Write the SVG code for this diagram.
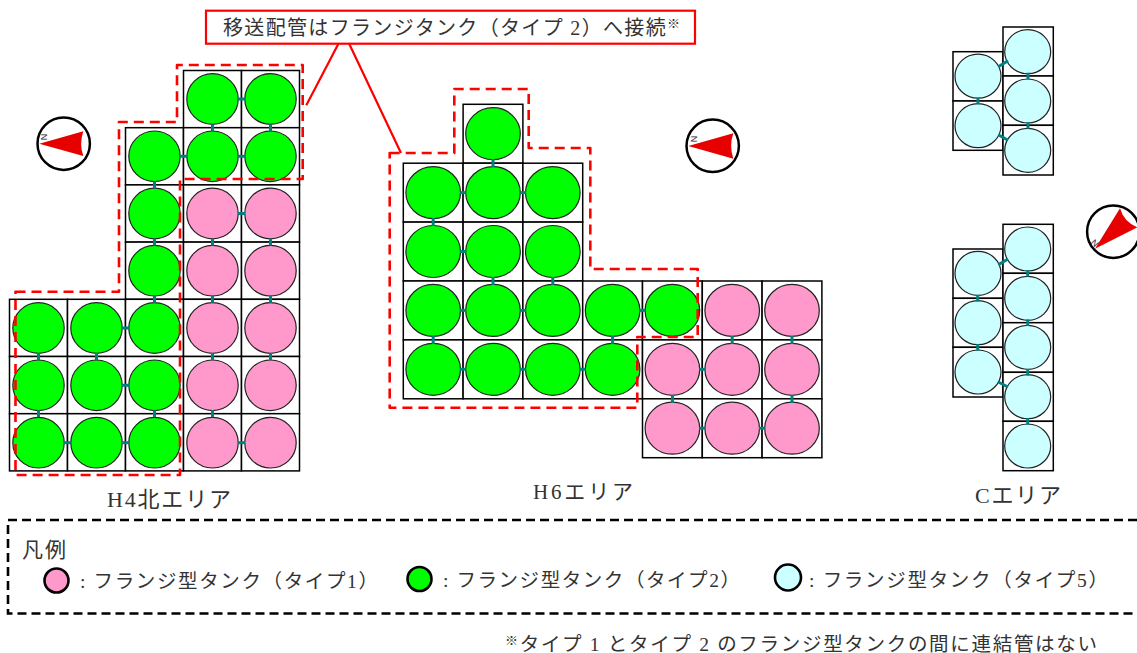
<svg xmlns="http://www.w3.org/2000/svg" width="1137" height="653" viewBox="0 0 1137 653">
<style>
.c{fill:#fff;stroke:#000;stroke-width:1.5}
.g,.p,.b{stroke:#222;stroke-width:1.2}
.g{fill:#00ff00}.p{fill:#ff99cc}.b{fill:#ccffff}
.k line{stroke:#008080;stroke-width:3}
.rd{fill:none;stroke:#ff0000;stroke-width:2.6;stroke-dasharray:10 6;stroke-linejoin:round}
.t{font-family:"Liberation Serif","Noto Sans CJK JP",serif;fill:#333;font-weight:400}
.lg{stroke:#000;stroke-width:2.6}
.nd{fill:#e60000}
.cp{fill:#fff;stroke:#000;stroke-width:2.5}
.n{font-family:"Liberation Sans",sans-serif;font-size:9px;fill:#222;text-anchor:middle}
</style>
<rect width="1137" height="653" fill="#fff"/>
<g id="area-h4">
<g id="h4-r0c3"><rect class="c" x="183.5" y="70.5" width="58" height="57.2"/><ellipse class="g" cx="212.5" cy="99" rx="25.7" ry="25.3"/></g>
<g id="h4-r0c4"><rect class="c" x="241.5" y="70.5" width="58" height="57.2"/><ellipse class="g" cx="270.5" cy="99" rx="25.7" ry="25.3"/></g>
<g id="h4-r1c2"><rect class="c" x="125.5" y="127.7" width="58" height="57.2"/><ellipse class="g" cx="154.5" cy="156.3" rx="25.7" ry="25.3"/></g>
<g id="h4-r1c3"><rect class="c" x="183.5" y="127.7" width="58" height="57.2"/><ellipse class="g" cx="212.5" cy="156.3" rx="25.7" ry="25.3"/></g>
<g id="h4-r1c4"><rect class="c" x="241.5" y="127.7" width="58" height="57.2"/><ellipse class="g" cx="270.5" cy="156.3" rx="25.7" ry="25.3"/></g>
<g id="h4-r2c2"><rect class="c" x="125.5" y="184.9" width="58" height="57.2"/><ellipse class="g" cx="154.5" cy="213.5" rx="25.7" ry="25.3"/></g>
<g id="h4-r2c3"><rect class="c" x="183.5" y="184.9" width="58" height="57.2"/><ellipse class="p" cx="212.5" cy="213.5" rx="25.7" ry="25.3"/></g>
<g id="h4-r2c4"><rect class="c" x="241.5" y="184.9" width="58" height="57.2"/><ellipse class="p" cx="270.5" cy="213.5" rx="25.7" ry="25.3"/></g>
<g id="h4-r3c2"><rect class="c" x="125.5" y="242.1" width="58" height="57.2"/><ellipse class="g" cx="154.5" cy="270.7" rx="25.7" ry="25.3"/></g>
<g id="h4-r3c3"><rect class="c" x="183.5" y="242.1" width="58" height="57.2"/><ellipse class="p" cx="212.5" cy="270.7" rx="25.7" ry="25.3"/></g>
<g id="h4-r3c4"><rect class="c" x="241.5" y="242.1" width="58" height="57.2"/><ellipse class="p" cx="270.5" cy="270.7" rx="25.7" ry="25.3"/></g>
<g id="h4-r4c0"><rect class="c" x="9.5" y="299.3" width="58" height="57.2"/><ellipse class="g" cx="38.5" cy="328" rx="25.7" ry="25.3"/></g>
<g id="h4-r4c1"><rect class="c" x="67.5" y="299.3" width="58" height="57.2"/><ellipse class="g" cx="96.5" cy="328" rx="25.7" ry="25.3"/></g>
<g id="h4-r4c2"><rect class="c" x="125.5" y="299.3" width="58" height="57.2"/><ellipse class="g" cx="154.5" cy="328" rx="25.7" ry="25.3"/></g>
<g id="h4-r4c3"><rect class="c" x="183.5" y="299.3" width="58" height="57.2"/><ellipse class="p" cx="212.5" cy="328" rx="25.7" ry="25.3"/></g>
<g id="h4-r4c4"><rect class="c" x="241.5" y="299.3" width="58" height="57.2"/><ellipse class="p" cx="270.5" cy="328" rx="25.7" ry="25.3"/></g>
<g id="h4-r5c0"><rect class="c" x="9.5" y="356.5" width="58" height="57.2"/><ellipse class="g" cx="38.5" cy="385.3" rx="25.7" ry="25.3"/></g>
<g id="h4-r5c1"><rect class="c" x="67.5" y="356.5" width="58" height="57.2"/><ellipse class="g" cx="96.5" cy="385.3" rx="25.7" ry="25.3"/></g>
<g id="h4-r5c2"><rect class="c" x="125.5" y="356.5" width="58" height="57.2"/><ellipse class="g" cx="154.5" cy="385.3" rx="25.7" ry="25.3"/></g>
<g id="h4-r5c3"><rect class="c" x="183.5" y="356.5" width="58" height="57.2"/><ellipse class="p" cx="212.5" cy="385.3" rx="25.7" ry="25.3"/></g>
<g id="h4-r5c4"><rect class="c" x="241.5" y="356.5" width="58" height="57.2"/><ellipse class="p" cx="270.5" cy="385.3" rx="25.7" ry="25.3"/></g>
<g id="h4-r6c0"><rect class="c" x="9.5" y="413.7" width="58" height="57.2"/><ellipse class="g" cx="38.5" cy="442.7" rx="25.7" ry="25.3"/></g>
<g id="h4-r6c1"><rect class="c" x="67.5" y="413.7" width="58" height="57.2"/><ellipse class="g" cx="96.5" cy="442.7" rx="25.7" ry="25.3"/></g>
<g id="h4-r6c2"><rect class="c" x="125.5" y="413.7" width="58" height="57.2"/><ellipse class="g" cx="154.5" cy="442.7" rx="25.7" ry="25.3"/></g>
<g id="h4-r6c3"><rect class="c" x="183.5" y="413.7" width="58" height="57.2"/><ellipse class="p" cx="212.5" cy="442.7" rx="25.7" ry="25.3"/></g>
<g id="h4-r6c4"><rect class="c" x="241.5" y="413.7" width="58" height="57.2"/><ellipse class="p" cx="270.5" cy="442.7" rx="25.7" ry="25.3"/></g>
</g>
<g id="area-h6">
<g id="h6-r0c1"><rect class="c" x="463.1" y="104.3" width="59.8" height="58.9"/><ellipse class="g" cx="493" cy="133.7" rx="27.3" ry="26"/></g>
<g id="h6-r1c0"><rect class="c" x="403.3" y="163.2" width="59.8" height="58.9"/><ellipse class="g" cx="433.2" cy="192.6" rx="27.3" ry="26"/></g>
<g id="h6-r1c1"><rect class="c" x="463.1" y="163.2" width="59.8" height="58.9"/><ellipse class="g" cx="493" cy="192.6" rx="27.3" ry="26"/></g>
<g id="h6-r1c2"><rect class="c" x="522.9" y="163.2" width="59.8" height="58.9"/><ellipse class="g" cx="552.8" cy="192.6" rx="27.3" ry="26"/></g>
<g id="h6-r2c0"><rect class="c" x="403.3" y="222.1" width="59.8" height="58.9"/><ellipse class="g" cx="433.2" cy="251.5" rx="27.3" ry="26"/></g>
<g id="h6-r2c1"><rect class="c" x="463.1" y="222.1" width="59.8" height="58.9"/><ellipse class="g" cx="493" cy="251.5" rx="27.3" ry="26"/></g>
<g id="h6-r2c2"><rect class="c" x="522.9" y="222.1" width="59.8" height="58.9"/><ellipse class="g" cx="552.8" cy="251.5" rx="27.3" ry="26"/></g>
<g id="h6-r3c0"><rect class="c" x="403.3" y="281" width="59.8" height="58.9"/><ellipse class="g" cx="433.2" cy="310.4" rx="27.3" ry="26"/></g>
<g id="h6-r3c1"><rect class="c" x="463.1" y="281" width="59.8" height="58.9"/><ellipse class="g" cx="493" cy="310.4" rx="27.3" ry="26"/></g>
<g id="h6-r3c2"><rect class="c" x="522.9" y="281" width="59.8" height="58.9"/><ellipse class="g" cx="552.8" cy="310.4" rx="27.3" ry="26"/></g>
<g id="h6-r3c3"><rect class="c" x="582.7" y="281" width="59.8" height="58.9"/><ellipse class="g" cx="612.6" cy="310.4" rx="27.3" ry="26"/></g>
<g id="h6-r3c4"><rect class="c" x="642.5" y="281" width="59.8" height="58.9"/><ellipse class="g" cx="672.4" cy="310.4" rx="27.3" ry="26"/></g>
<g id="h6-r3c5"><rect class="c" x="702.3" y="281" width="59.8" height="58.9"/><ellipse class="p" cx="732.2" cy="310.4" rx="27.3" ry="26"/></g>
<g id="h6-r3c6"><rect class="c" x="762.1" y="281" width="59.8" height="58.9"/><ellipse class="p" cx="792" cy="310.4" rx="27.3" ry="26"/></g>
<g id="h6-r4c0"><rect class="c" x="403.3" y="339.9" width="59.8" height="58.9"/><ellipse class="g" cx="433.2" cy="369.3" rx="27.3" ry="26"/></g>
<g id="h6-r4c1"><rect class="c" x="463.1" y="339.9" width="59.8" height="58.9"/><ellipse class="g" cx="493" cy="369.3" rx="27.3" ry="26"/></g>
<g id="h6-r4c2"><rect class="c" x="522.9" y="339.9" width="59.8" height="58.9"/><ellipse class="g" cx="552.8" cy="369.3" rx="27.3" ry="26"/></g>
<g id="h6-r4c3"><rect class="c" x="582.7" y="339.9" width="59.8" height="58.9"/><ellipse class="g" cx="612.6" cy="369.3" rx="27.3" ry="26"/></g>
<g id="h6-r4c4"><rect class="c" x="642.5" y="339.9" width="59.8" height="58.9"/><ellipse class="p" cx="672.4" cy="369.3" rx="27.3" ry="26"/></g>
<g id="h6-r4c5"><rect class="c" x="702.3" y="339.9" width="59.8" height="58.9"/><ellipse class="p" cx="732.2" cy="369.3" rx="27.3" ry="26"/></g>
<g id="h6-r4c6"><rect class="c" x="762.1" y="339.9" width="59.8" height="58.9"/><ellipse class="p" cx="792" cy="369.3" rx="27.3" ry="26"/></g>
<g id="h6-r5c4"><rect class="c" x="642.5" y="398.8" width="59.8" height="58.9"/><ellipse class="p" cx="672.4" cy="428.2" rx="27.3" ry="26"/></g>
<g id="h6-r5c5"><rect class="c" x="702.3" y="398.8" width="59.8" height="58.9"/><ellipse class="p" cx="732.2" cy="428.2" rx="27.3" ry="26"/></g>
<g id="h6-r5c6"><rect class="c" x="762.1" y="398.8" width="59.8" height="58.9"/><ellipse class="p" cx="792" cy="428.2" rx="27.3" ry="26"/></g>
</g>
<g id="area-c">
<g id="c1-l0"><rect class="c" x="953" y="51.7" width="50" height="49.3"/><ellipse class="b" cx="978" cy="76.2" rx="23" ry="22"/></g>
<g id="c1-l1"><rect class="c" x="953" y="101" width="50" height="49.3"/><ellipse class="b" cx="978" cy="125.7" rx="23" ry="22"/></g>
<g id="c1-r0"><rect class="c" x="1003" y="27" width="50.3" height="49"/><ellipse class="b" cx="1027.7" cy="51.7" rx="23" ry="22"/></g>
<g id="c1-r1"><rect class="c" x="1003" y="76" width="50.3" height="49.3"/><ellipse class="b" cx="1027.7" cy="101" rx="23" ry="22"/></g>
<g id="c1-r2"><rect class="c" x="1003" y="125.3" width="50.3" height="49.7"/><ellipse class="b" cx="1027.7" cy="150.3" rx="23" ry="22"/></g>
<g id="c2-l0"><rect class="c" x="953" y="249" width="50" height="49.3"/><ellipse class="b" cx="978" cy="273.3" rx="23" ry="22"/></g>
<g id="c2-l1"><rect class="c" x="953" y="298.3" width="50" height="49"/><ellipse class="b" cx="978" cy="322.7" rx="23" ry="22"/></g>
<g id="c2-l2"><rect class="c" x="953" y="347.3" width="50" height="49.7"/><ellipse class="b" cx="978" cy="372" rx="23" ry="22"/></g>
<g id="c2-r0"><rect class="c" x="1003" y="224.3" width="50.3" height="49"/><ellipse class="b" cx="1027.7" cy="249" rx="23" ry="22"/></g>
<g id="c2-r1"><rect class="c" x="1003" y="273.3" width="50.3" height="49.4"/><ellipse class="b" cx="1027.7" cy="298.3" rx="23" ry="22"/></g>
<g id="c2-r2"><rect class="c" x="1003" y="322.7" width="50.3" height="49.6"/><ellipse class="b" cx="1027.7" cy="347.3" rx="23" ry="22"/></g>
<g id="c2-r3"><rect class="c" x="1003" y="372.3" width="50.3" height="49"/><ellipse class="b" cx="1027.7" cy="396.7" rx="23" ry="22"/></g>
<g id="c2-r4"><rect class="c" x="1003" y="421.3" width="50.3" height="49.4"/><ellipse class="b" cx="1027.7" cy="446" rx="23" ry="22"/></g>
</g>
<g id="connectors" class="k">
<line x1="238" y1="99" x2="245" y2="99"/><line x1="180" y1="156.3" x2="187" y2="156.3"/><line x1="238" y1="156.3" x2="245" y2="156.3"/><line x1="238" y1="213.5" x2="245" y2="213.5"/><line x1="122" y1="328" x2="129" y2="328"/><line x1="122" y1="385.3" x2="129" y2="385.3"/><line x1="64" y1="442.7" x2="71" y2="442.7"/><line x1="122" y1="442.7" x2="129" y2="442.7"/><line x1="238" y1="442.7" x2="245" y2="442.7"/>
<line x1="212.5" y1="124.2" x2="212.5" y2="131.2"/><line x1="270.5" y1="124.2" x2="270.5" y2="131.2"/><line x1="154.5" y1="181.4" x2="154.5" y2="188.4"/><line x1="154.5" y1="238.6" x2="154.5" y2="245.6"/><line x1="212.5" y1="238.6" x2="212.5" y2="245.6"/><line x1="270.5" y1="238.6" x2="270.5" y2="245.6"/><line x1="154.5" y1="295.8" x2="154.5" y2="302.8"/><line x1="212.5" y1="295.8" x2="212.5" y2="302.8"/><line x1="270.5" y1="295.8" x2="270.5" y2="302.8"/><line x1="38.5" y1="353" x2="38.5" y2="360"/><line x1="96.5" y1="353" x2="96.5" y2="360"/><line x1="212.5" y1="353" x2="212.5" y2="360"/><line x1="270.5" y1="353" x2="270.5" y2="360"/><line x1="38.5" y1="410.2" x2="38.5" y2="417.2"/><line x1="154.5" y1="410.2" x2="154.5" y2="417.2"/><line x1="212.5" y1="410.2" x2="212.5" y2="417.2"/>
<line x1="493" y1="159" x2="493" y2="167"/><line x1="433.2" y1="218" x2="433.2" y2="226"/><line x1="493" y1="277" x2="493" y2="285"/><line x1="552.8" y1="277" x2="552.8" y2="285"/><line x1="433.2" y1="336" x2="433.2" y2="344"/><line x1="612.6" y1="336" x2="612.6" y2="344"/><line x1="732.2" y1="336" x2="732.2" y2="344"/><line x1="792" y1="336" x2="792" y2="344"/><line x1="672.4" y1="395" x2="672.4" y2="403"/><line x1="792" y1="395" x2="792" y2="403"/>
<line x1="460" y1="192.6" x2="466" y2="192.6"/><line x1="520" y1="192.6" x2="526" y2="192.6"/><line x1="460" y1="251.5" x2="466" y2="251.5"/><line x1="460" y1="310.4" x2="466" y2="310.4"/><line x1="520" y1="310.4" x2="526" y2="310.4"/><line x1="639.5" y1="310.4" x2="645.5" y2="310.4"/><line x1="460" y1="369.3" x2="466" y2="369.3"/><line x1="520" y1="369.3" x2="526" y2="369.3"/><line x1="579.7" y1="369.3" x2="585.7" y2="369.3"/><line x1="699.3" y1="369.3" x2="705.3" y2="369.3"/><line x1="699.3" y1="428.2" x2="705.3" y2="428.2"/><line x1="759" y1="428.2" x2="765" y2="428.2"/>
<line x1="998.3" y1="66.7" x2="1008" y2="60.7"/><line x1="1028" y1="72.7" x2="1028" y2="79.3"/><line x1="1028" y1="122" x2="1028" y2="128.6"/><line x1="978" y1="97.7" x2="978" y2="104.3"/><line x1="998.3" y1="134.7" x2="1008" y2="140.3"/>
<line x1="998.3" y1="264.7" x2="1008" y2="259"/><line x1="977.7" y1="295" x2="977.7" y2="301.6"/><line x1="977.7" y1="344" x2="977.7" y2="350.6"/><line x1="1027.7" y1="270" x2="1027.7" y2="276.6"/><line x1="1027.7" y1="319.4" x2="1027.7" y2="326"/><line x1="1027.7" y1="369" x2="1027.7" y2="375.6"/><line x1="1027.7" y1="418" x2="1027.7" y2="424.6"/><line x1="998.3" y1="382" x2="1008" y2="387"/>
</g>
<g id="outlines">
<path class="rd" d="M15.5 291.7H119V122H177V65H302.7V179H180V475H15.5Z"/>
<path class="rd" d="M389.7 153H454.3V89H528.7V148H590.3V269H697.7V337H637.3V407.7H389.7Z"/>
</g>
<g id="callout">
<rect x="206" y="10.7" width="489" height="33" fill="#fff" stroke="#ff0000" stroke-width="2.2"/>
<path d="M338.3 44L306.3 105.3M349.3 44L401 153" fill="none" stroke="#ff0000" stroke-width="2.2"/>
<text class="t" x="223" y="35" font-size="20" textLength="457">移送配管はフランジタンク（タイプ 2）へ接続<tspan font-size="13" dy="-7">※</tspan></text>
</g>
<g id="compass-1"><circle class="cp" cx="63.7" cy="143.7" r="26.2"/><path class="nd" d="M39.3 143.7L83.3 131.3Q79 143.7 83.3 156Z"/><text class="n" transform="translate(47 137) rotate(-90)">N</text></g>
<g id="compass-2"><circle class="cp" cx="712.7" cy="145.8" r="26.2"/><path class="nd" d="M688.3 146L733.3 133.3Q729 146 733.3 158.7Z"/><text class="n" transform="translate(697 139) rotate(-90)">N</text></g>
<g id="compass-3"><circle class="cp" cx="1113.3" cy="231.7" r="26.2"/><path class="nd" d="M1095 248.7L1120 208.3Q1124 222 1137.3 227.3Z"/><text class="n" transform="translate(1097 241) rotate(-135)">N</text></g>
<g id="labels">
<text class="t" x="107" y="507" font-size="22" textLength="124">H4北エリア</text>
<text class="t" x="533" y="499" font-size="21" textLength="100">H6エリア</text>
<text class="t" x="975" y="503" font-size="22" textLength="86">Cエリア</text>
</g>
<g id="legend">
<path d="M1137 520H8V613.5H1137" fill="none" stroke="#000" stroke-width="2.6" stroke-dasharray="9 5"/>
<text class="t" x="22" y="557" font-size="21" textLength="44">凡例</text>
<circle class="lg" fill="#ff99cc" cx="56.5" cy="580.5" r="12"/>
<text class="t" x="80" y="588" font-size="19.5" textLength="298">: フランジ型タンク（タイプ1）</text>
<circle class="lg" fill="#00ff00" cx="419.5" cy="579" r="12"/>
<text class="t" x="443" y="587" font-size="19.5" textLength="297">: フランジ型タンク（タイプ2）</text>
<circle class="lg" fill="#ccffff" cx="788" cy="577.5" r="13"/>
<text class="t" x="809" y="587" font-size="19.5" textLength="299">: フランジ型タンク（タイプ5）</text>
</g>
<text id="note" class="t" x="505" y="651" font-size="19.5" textLength="592"><tspan font-size="13" dy="-6">※</tspan><tspan dy="6">タイプ 1 とタイプ 2 のフランジ型タンクの間に連結管はない</tspan></text>
</svg>
